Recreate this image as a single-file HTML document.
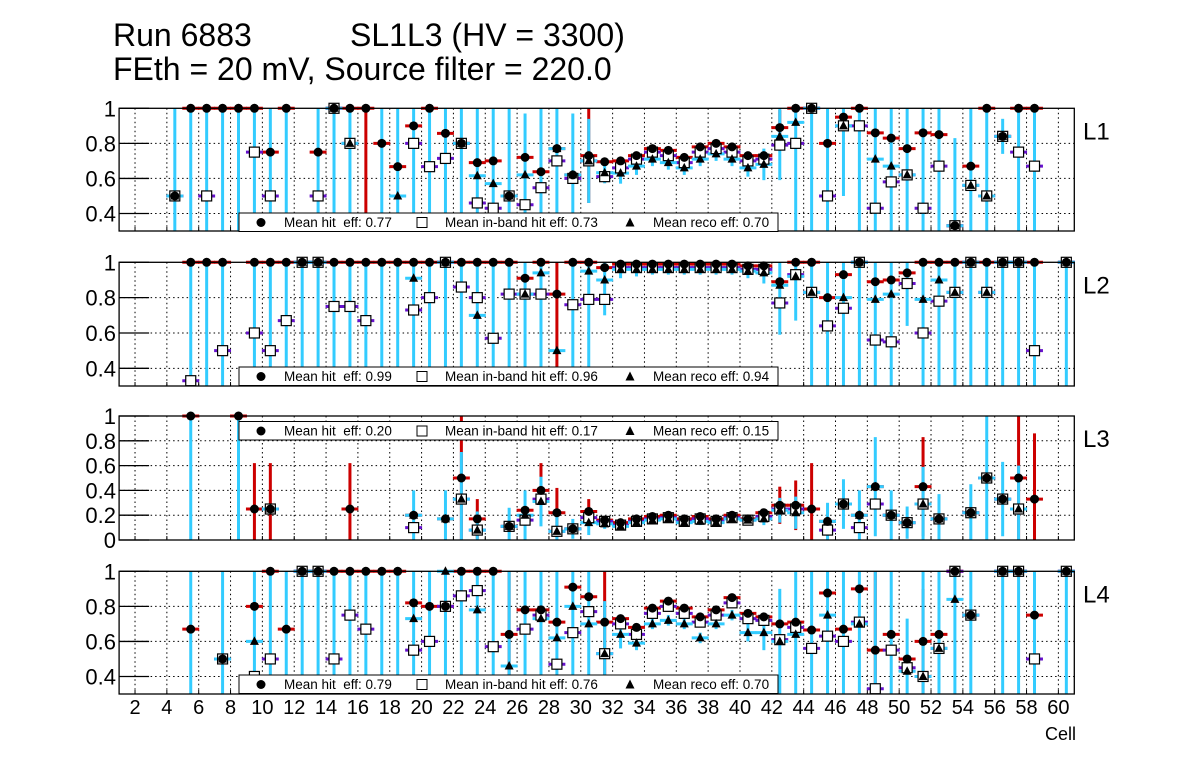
<!DOCTYPE html>
<html><head><meta charset="utf-8">
<style>
html,body{margin:0;padding:0;background:#fff;}
svg{display:block;font-family:"Liberation Sans",Arial,sans-serif;}
</style></head>
<body>
<svg id="chart" width="1196" height="772" viewBox="0 0 1196 772" xmlns="http://www.w3.org/2000/svg">
<rect x="0" y="0" width="1196" height="772" fill="#fff"/>
<text x="113" y="46" font-size="32">Run 6883</text>
<text x="350" y="46" font-size="32">SL1L3 (HV = 3300)</text>
<text x="113" y="80" font-size="32">FEth = 20 mV, Source filter = 220.0</text>
<text x="1076" y="740" font-size="18" text-anchor="end">Cell</text>
</svg>
<script>
// cells n = 4..60, bin centres n+0.5
const firstCell = 4;
const xTickLabels = ["2","4","6","8","10","12","14","16","18","20","22","24","26","28","30","32","34","36","38","40","42","44","46","48","50","52","54","56","58","60"];
const layerNames = ["L1","L2","L3","L4"];
const meanHit = ["0.77","0.99","0.20","0.79"];
const meanBand = ["0.73","0.96","0.17","0.76"];
const meanReco = ["0.70","0.94","0.15","0.70"];

const l1Hit=[.5,1,1,1,1,1, .75,1,null,.75,1,1,1,.8,.667,.9, 1,.857,.8,.69,.7,.5,.72,.638,.77,.62, .73,.695,.7,.73,.77,.76,.72,.78,.8,.78, .73,.73,.89,1,1,.8,.95,1,.86,.83, .77,.86,.85,.33,.67,1,.84,1,1,null,null];
const l1Band=[.5,null,.5,null,null,.75, .5,null,null,.5,1,.8,null,null,null,.8, .667,.714,.8,.46,.43,.5,.45,.547,.7,.6, .7,.61,.66,.71,.75,.73,.69,.75,.77,.75, .7,.71,.79,.8,1,.5,.9,.9,.43,.58, .62,.43,.67,.33,.56,.5,.84,.75,.67,null,null];
const l1Reco=[.5,null,null,null,null,null, null,null,null,null,1,.8,null,null,.5,null, null,null,.8,.615,.57,.5,.62,null,.77,.62, .7,.632,.63,.67,.71,.69,.66,.71,.74,.71, .66,.68,.84,.92,1,null,.9,null,.71,.67, .62,null,null,.33,.56,.5,.84,null,null,null,null];
const l1Err=[1,1,1,1,1,1, 1,1,0,1,1,1,0,1,1,1, 1,1,1,1,1,1,.35,1,1,.35, .24,.06,.06,.05,.04,.04,.04,.04,.04,.04, .05,.09,.25,1,1,1,.4,1,1,1, 1,1,1,.5,1,1,.1,1,1,0,0];
const l1HitErr=[0,0,0,0,0,0, 0,0,0,0,0,0,1,0,0,0, 0,0,0,0,0,0,0,0,0,0, .27,0,0,0,0,0,0,0,0,0, 0,0,.1,0,0,0,0,0,0,0, 0,0,0,0,0,0,0,0,0,0,0];

const l2Hit=[null,1,1,1,null,1, 1,1,1,1,1,1,1,1,1,1, 1,1,1,1,1,1,.91,1,.82,1, 1,.97,.99,.99,.99,.99,.99,.99,.99,.99, .98,.98,.89,1,1,.8,.93,1,.89,.9, .94,1,1,1,1,1,1,1,1,null,1];
const l2Band=[null,.33,null,.5,null,.6, .5,.67,1,1,.75,.75,.67,null,null,.73, .8,1,.86,.8,.57,.82,.82,.82,null,.76, .79,.79,.97,.97,.97,.97,.97,.97,.97,.97, .96,.96,.77,.93,.83,.64,.74,1,.56,.55, .88,.6,.78,.83,1,.83,1,1,.5,null,1];
const l2Reco=[null,null,null,null,null,null, null,null,1,1,null,null,null,null,null,.91, null,1,null,.7,null,null,.82,.94,.5,null, .95,.9,.96,.96,.96,.96,.96,.96,.96,.96, .95,.94,.87,.92,.83,null,.8,1,.79,.82, null,.79,.9,.83,1,.83,1,1,null,null,1];
const l2Err=[0,1,1,1,0,1, 1,1,1,1,1,1,1,1,1,1, 1,1,1,1,1,1,1,1,0,1, 1,.2,.05,.04,.03,.03,.03,.03,.03,.03, .04,.06,.28,.25,1,1,1,1,1,1, .3,1,1,1,1,1,1,1,1,0,1];
const l2HitErr=[0,0,0,0,0,0, 0,0,0,0,0,0,0,0,0,0, 0,0,0,0,0,0,0,0,1,0, 0,0,0,0,0,0,0,0,0,0, 0,0,0,0,0,0,0,0,0,0, 0,0,0,0,0,0,0,0,0,0,0];

const l3Hit=[null,1,null,null,1,.25, .25,null,null,null,null,.25,null,null,null,.2, null,.17,.5,.17,null,.11,.24,.4,.22,.09, .23,.16,.14,.17,.19,.2,.17,.19,.17,.2, .17,.22,.28,.28,.25,.15,.29,.2,.43,.2, .14,.43,.17,null,.22,.5,.33,.5,.33,null,null];
const l3Band=[null,null,null,null,null,null, .25,null,null,null,null,null,null,null,null,.1, null,null,.33,.08,null,.11,.16,.33,.07,.09, .18,.15,.12,.15,.17,.18,.15,.17,.15,.18, .16,.19,.25,.25,null,.08,.29,.1,.29,.2, .14,.29,.17,null,.22,.5,.33,.25,null,null,null];
const l3Reco=[null,null,null,null,null,null, .25,null,null,null,null,null,null,null,null,.2, null,.17,.33,.08,null,.11,.2,.31,.07,.09, .14,.13,.11,.14,.16,.17,.14,.15,.14,.17, .16,.17,.24,.22,null,.15,.29,.2,.43,.2, .14,.29,.17,null,.22,.5,.33,.25,null,null,null];
const l3Err=[0,1,0,0,1,0, 0,0,0,0,0,0,0,0,0,.2, 0,.23,.38,.15,0,.15,.2,.2,.15,.08, .1,.04,.03,.03,.03,.03,.03,.03,.03,.03, .03,.05,.1,.13,0,.15,.2,.2,.4,.2, .13,.3,.2,0,.23,.5,.3,.35,0,0,0];
const l3HitErr=[0,0,0,0,0,.37, .37,0,0,0,0,.37,0,0,0,0, 0,0,.5,.16,0,0,0,.22,.2,0, .1,0,0,0,0,0,0,0,0,0, 0,0,.15,.2,.37,0,0,0,0,0, 0,.4,0,0,0,0,0,.5,.53,0,0];

const l4Hit=[null,.67,null,.5,null,.8, 1,.67,1,1,1,1,1,1,1,.82, .8,.8,1,1,1,.64,.78,.78,.71,.91, .855,.71,.73,.68,.79,.83,.79,.74,.78,.85, .76,.74,.7,.71,.665,.876,.67,.9,.55,.64, .5,.6,.64,1,.75,null,1,1,.75,null,1];
const l4Band=[null,null,null,.5,null,.4, .5,null,1,1,.5,.75,.67,null,null,.55, .6,.8,.86,.89,.57,null,.67,.75,.47,.65, .77,.53,.7,.64,.76,.8,.76,.71,.75,.82, .73,.72,.61,.68,.56,.63,.6,.71,.33,.55, .45,.4,.56,1,.75,null,1,1,.5,null,1];
const l4Reco=[null,null,null,.5,null,.6, null,null,1,1,null,null,null,null,null,.73, null,1,null,.78,null,.46,null,.73,.62,.8, .7,.53,.64,.59,.7,.72,.7,.62,.7,.75, .65,.65,.6,.64,null,.75,null,.7,null,null, .43,.4,.56,.84,.75,null,1,1,null,null,1];
const l4Err=[0,1,0,1,0,1, 1,1,1,1,1,1,1,1,1,1, 1,1,1,1,1,1,1,1,1,1, 1,.3,.08,.04,.03,.03,.03,.03,.03,.03, .05,.1,.3,.4,1,1,1,1,1,1, .3,1,1,1,1,0,1,1,1,0,1];
const l4HitErr=[0,0,0,0,0,0, 0,0,0,0,0,0,0,0,0,0, 0,0,0,0,0,1,0,0,0,0, 0,.3,0,0,0,0,0,0,0,0, 0,0,0,0,0,0,0,0,.45,0, 0,.3,0,0,0,0,0,0,0,0,0];

const layers = [
  {hit:l1Hit,band:l1Band,reco:l1Reco,err:l1Err,hitErr:l1HitErr},
  {hit:l2Hit,band:l2Band,reco:l2Reco,err:l2Err,hitErr:l2HitErr},
  {hit:l3Hit,band:l3Band,reco:l3Reco,err:l3Err,hitErr:l3HitErr},
  {hit:l4Hit,band:l4Band,reco:l4Reco,err:l4Err,hitErr:l4HitErr}
];
const yMins = [0.3,0.3,0,0.3];
const yTickVals = [[0.4,0.6,0.8,1],[0.4,0.6,0.8,1],[0,0.2,0.4,0.6,0.8,1],[0.4,0.6,0.8,1]];
const yTickLabels = [["0.4","0.6","0.8","1"],["0.4","0.6","0.8","1"],["0","0.2","0.4","0.6","0.8","1"],["0.4","0.6","0.8","1"]];

const tops=[108.3,262.3,416,571.3], bottoms=[231,386,540,694];
const legendY=[213,367,421.5,675];
const X0=119.1, CW=15.92;
const svg=document.getElementById('chart');
const NS='http://www.w3.org/2000/svg';
function xs(c){return X0+(c-1)*CW;}
function mk(tag,attrs,parent){const e=document.createElementNS(NS,tag);for(const k in attrs)e.setAttribute(k,attrs[k]);(parent||svg).appendChild(e);return e;}
const CR='#cc0000', CP='#6611cc', CC='#33ccff';

layers.forEach((L,p)=>{
  const top=tops[p], bot=bottoms[p], ymin=yMins[p];
  const ys=v=>bot-(v-ymin)/(1-ymin)*(bot-top);
  const clip=v=>Math.max(ymin,Math.min(1,v));
  const g=mk('g',{});
  
  
  for(let c=2;c<=60;c+=2){
    const gl=mk('line',{x1:xs(c),x2:xs(c),y1:top,y2:bot,stroke:'#000','stroke-width':1,'stroke-dasharray':'1.5,3'},g);
    
    
    const tk=mk('line',{x1:xs(c),x2:xs(c),y1:bot,y2:bot-4,stroke:'#000','stroke-width':1},g);
    
    
  }
  yTickVals[p].forEach((v,i)=>{
    if(v>ymin && v<1){
      const gl=mk('line',{x1:X0,x2:xs(61),y1:ys(v),y2:ys(v),stroke:'#000','stroke-width':1,'stroke-dasharray':'1.5,3'},g);
      
      
    }
    const tk=mk('line',{x1:X0,x2:X0+30,y1:ys(v),y2:ys(v),stroke:'#000','stroke-width':1.3},g);
    
    
    const t=mk('text',{x:116,y:ys(v)+8,'font-size':22,'text-anchor':'end'},g);
    t.textContent=yTickLabels[p][i];
    
    
  });
  L.hit.forEach((h,i)=>{
    const cx=xs(firstCell+i+0.5);
    const ctr=L.reco[i]!=null?L.reco[i]:(h!=null?h:0.5);
    if(L.hitErr[i]>0 && h!=null){
      const e=mk('line',{x1:cx,x2:cx,y1:ys(clip(h-L.hitErr[i])),y2:ys(clip(h+L.hitErr[i])),stroke:CR,'stroke-width':3},g);
      
      
    }
    if(L.err[i]>0){
      const e=mk('line',{x1:cx,x2:cx,y1:ys(clip(ctr-L.err[i])),y2:ys(clip(ctr+L.err[i])),stroke:CC,'stroke-width':3},g);
      
      
    }
  });
  [[L.hit,CR,'hit'],[L.band,CP,'inband'],[L.reco,CC,'reco']].forEach(([arr,col,nm])=>{
    arr.forEach((v,i)=>{
      if(v==null||v<ymin)return;
      const c=firstCell+i;
      const e=mk('line',{x1:xs(c)-0.5,x2:xs(c+1)+0.5,y1:ys(v),y2:ys(v),stroke:col,'stroke-width':3},g);
      
      
    });
  });
  L.band.forEach((v,i)=>{
    if(v==null||v<ymin)return;
    const cx=xs(firstCell+i+0.5);
    const m=mk('rect',{x:cx-5,y:ys(v)-5,width:10,height:10,fill:'#fff',stroke:'#000','stroke-width':1.2},g);
    
    
  });
  L.hit.forEach((v,i)=>{
    if(v==null||v<ymin)return;
    const cx=xs(firstCell+i+0.5);
    const m=mk('circle',{cx:cx,cy:ys(v),r:4.5,fill:'#000'},g);
    
    
  });
  L.reco.forEach((v,i)=>{
    if(v==null||v<ymin)return;
    const cx=xs(firstCell+i+0.5), cy=ys(v);
    const m=mk('polygon',{points:`${cx},${cy-5} ${cx-4.5},${cy+3.5} ${cx+4.5},${cy+3.5}`,fill:'#000'},g);
    
    
  });
  const fr=mk('rect',{x:X0,y:top,width:xs(61)-X0,height:bot-top,fill:'none',stroke:'#000','stroke-width':1.3},g);
  
  
  const ll=mk('text',{x:1083,y:top+31,'font-size':24},g);
  ll.textContent=layerNames[p];
  
  
  const ly=legendY[p];
  const lg=mk('g',{},g);
  
  
  mk('rect',{x:239,y:ly,width:539,height:18.5,fill:'#fff',stroke:'#000','stroke-width':1},lg);
  const ty=ly+14;
  const c1=mk('circle',{cx:261,cy:ly+9.5,r:4.5,fill:'#000'},lg);
  
  
  const t1=mk('text',{x:284,y:ty,'font-size':13.5},lg);
  t1.textContent='Mean hit\u00a0 eff: '+meanHit[p];
  
  
  const s2=mk('rect',{x:417,y:ly+4.5,width:10,height:10,fill:'#fff',stroke:'#000','stroke-width':1},lg);
  
  
  const t2=mk('text',{x:445,y:ty,'font-size':13.5},lg);
  t2.textContent='Mean in-band hit eff: '+meanBand[p];
  
  
  const tr=mk('polygon',{points:`630,${ly+4.5} 625.5,${ly+13.5} 634.5,${ly+13.5}`,fill:'#000'},lg);
  
  
  const t3=mk('text',{x:653,y:ty,'font-size':13.5},lg);
  t3.textContent='Mean reco eff: '+meanReco[p];
  
  
});
xTickLabels.forEach((lab,i)=>{
  const t=mk('text',{x:xs(2+2*i),y:714,'font-size':20,'text-anchor':'middle'});
  t.textContent=lab;
  
  
});
</script>
</body></html>
